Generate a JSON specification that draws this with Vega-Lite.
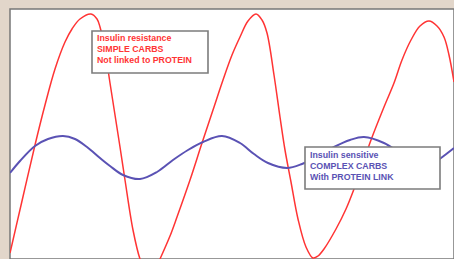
{
  "$schema": "https://vega.github.io/schema/vega-lite/v6.json",
  "width": 454,
  "height": 259,
  "autosize": {"type": "fit", "contains": "padding"},
  "padding": {"left": 10, "top": 9, "right": 0, "bottom": 0},
  "background": "#e2d6ca",
  "config": {"view": {"fill": "white", "stroke": "#777777", "strokeWidth": 1.5}},
  "datasets": {
    "curves": [
      {"series": "resistance", "x": 0, "y": 6},
      {"series": "resistance", "x": 12, "y": 58},
      {"series": "resistance", "x": 25, "y": 114},
      {"series": "resistance", "x": 35, "y": 154},
      {"series": "resistance", "x": 45, "y": 190},
      {"series": "resistance", "x": 55, "y": 217},
      {"series": "resistance", "x": 62, "y": 230},
      {"series": "resistance", "x": 70, "y": 240},
      {"series": "resistance", "x": 81, "y": 245},
      {"series": "resistance", "x": 87, "y": 240},
      {"series": "resistance", "x": 90, "y": 232},
      {"series": "resistance", "x": 95, "y": 209},
      {"series": "resistance", "x": 100, "y": 176},
      {"series": "resistance", "x": 110, "y": 112},
      {"series": "resistance", "x": 115, "y": 79},
      {"series": "resistance", "x": 123, "y": 29},
      {"series": "resistance", "x": 130, "y": 0},
      {"series": "resistance", "x": 135, "y": -11},
      {"series": "resistance", "x": 140, "y": -15},
      {"series": "resistance", "x": 145, "y": -11},
      {"series": "resistance", "x": 150, "y": 0},
      {"series": "resistance", "x": 160, "y": 23},
      {"series": "resistance", "x": 167, "y": 42},
      {"series": "resistance", "x": 180, "y": 79},
      {"series": "resistance", "x": 192, "y": 116},
      {"series": "resistance", "x": 203, "y": 149},
      {"series": "resistance", "x": 213, "y": 179},
      {"series": "resistance", "x": 222, "y": 204},
      {"series": "resistance", "x": 230, "y": 222},
      {"series": "resistance", "x": 238, "y": 238},
      {"series": "resistance", "x": 246, "y": 245},
      {"series": "resistance", "x": 252, "y": 239},
      {"series": "resistance", "x": 257, "y": 226},
      {"series": "resistance", "x": 264, "y": 184},
      {"series": "resistance", "x": 270, "y": 142},
      {"series": "resistance", "x": 275, "y": 109},
      {"series": "resistance", "x": 281, "y": 77},
      {"series": "resistance", "x": 288, "y": 40},
      {"series": "resistance", "x": 296, "y": 12},
      {"series": "resistance", "x": 303, "y": 1},
      {"series": "resistance", "x": 308, "y": 3},
      {"series": "resistance", "x": 314, "y": 10},
      {"series": "resistance", "x": 326, "y": 30},
      {"series": "resistance", "x": 336, "y": 50},
      {"series": "resistance", "x": 344, "y": 70},
      {"series": "resistance", "x": 352, "y": 93},
      {"series": "resistance", "x": 361, "y": 119},
      {"series": "resistance", "x": 374, "y": 152},
      {"series": "resistance", "x": 384, "y": 176},
      {"series": "resistance", "x": 392, "y": 199},
      {"series": "resistance", "x": 401, "y": 219},
      {"series": "resistance", "x": 410, "y": 233},
      {"series": "resistance", "x": 419, "y": 238},
      {"series": "resistance", "x": 427, "y": 233},
      {"series": "resistance", "x": 434, "y": 222},
      {"series": "resistance", "x": 439, "y": 204},
      {"series": "resistance", "x": 444, "y": 177},
      {"series": "sensitive", "x": 0, "y": 86},
      {"series": "sensitive", "x": 10, "y": 98},
      {"series": "sensitive", "x": 25, "y": 113},
      {"series": "sensitive", "x": 38, "y": 120},
      {"series": "sensitive", "x": 53, "y": 123},
      {"series": "sensitive", "x": 65, "y": 120},
      {"series": "sensitive", "x": 77, "y": 112},
      {"series": "sensitive", "x": 90, "y": 101},
      {"series": "sensitive", "x": 100, "y": 93},
      {"series": "sensitive", "x": 113, "y": 84},
      {"series": "sensitive", "x": 130, "y": 80},
      {"series": "sensitive", "x": 147, "y": 87},
      {"series": "sensitive", "x": 163, "y": 99},
      {"series": "sensitive", "x": 178, "y": 109},
      {"series": "sensitive", "x": 193, "y": 117},
      {"series": "sensitive", "x": 212, "y": 123},
      {"series": "sensitive", "x": 230, "y": 116},
      {"series": "sensitive", "x": 244, "y": 105},
      {"series": "sensitive", "x": 258, "y": 96},
      {"series": "sensitive", "x": 277, "y": 91},
      {"series": "sensitive", "x": 292, "y": 95},
      {"series": "sensitive", "x": 308, "y": 103},
      {"series": "sensitive", "x": 324, "y": 112},
      {"series": "sensitive", "x": 340, "y": 119},
      {"series": "sensitive", "x": 354, "y": 122},
      {"series": "sensitive", "x": 374, "y": 116},
      {"series": "sensitive", "x": 390, "y": 106},
      {"series": "sensitive", "x": 405, "y": 96},
      {"series": "sensitive", "x": 418, "y": 92},
      {"series": "sensitive", "x": 431, "y": 101},
      {"series": "sensitive", "x": 444, "y": 111}
    ],
    "boxes": [
      {"series": "resistance", "x": 82, "x2": 198, "y": 228, "y2": 186},
      {"series": "sensitive", "x": 295, "x2": 430, "y": 112, "y2": 70}
    ],
    "labels": [
      {"series": "resistance", "x": 87, "y": 221, "text": "Insulin resistance"},
      {"series": "resistance", "x": 87, "y": 210, "text": "SIMPLE CARBS"},
      {"series": "resistance", "x": 87, "y": 199, "text": "Not linked to PROTEIN"},
      {"series": "sensitive", "x": 300, "y": 104, "text": "Insulin sensitive"},
      {"series": "sensitive", "x": 300, "y": 93, "text": "COMPLEX CARBS"},
      {"series": "sensitive", "x": 300, "y": 82, "text": "With PROTEIN LINK"}
    ]
  },
  "layer": [
    {
      "data": {"name": "curves"},
      "mark": {"type": "line", "interpolate": "catmull-rom", "clip": true},
      "encoding": {
        "x": {"field": "x", "type": "quantitative", "scale": {"domain": [0, 444], "nice": false, "zero": false}, "axis": null},
        "y": {"field": "y", "type": "quantitative", "scale": {"domain": [0, 250], "nice": false, "zero": false}, "axis": null},
        "color": {"field": "series", "type": "nominal", "scale": {"domain": ["resistance", "sensitive"], "range": ["#ff3434", "#5a52b4"]}, "legend": null},
        "strokeWidth": {"field": "series", "type": "nominal", "scale": {"domain": ["resistance", "sensitive"], "range": [1.5, 2]}, "legend": null}
      }
    },
    {
      "data": {"name": "boxes"},
      "mark": {"type": "rect", "fill": "white", "stroke": "#7c7c7c", "strokeWidth": 1.6},
      "encoding": {
        "x": {"field": "x", "type": "quantitative"},
        "x2": {"field": "x2"},
        "y": {"field": "y", "type": "quantitative"},
        "y2": {"field": "y2"}
      }
    },
    {
      "data": {"name": "labels"},
      "mark": {"type": "text", "align": "left", "baseline": "middle", "font": "Liberation Sans", "fontSize": 8.8, "fontWeight": "bold"},
      "encoding": {
        "x": {"field": "x", "type": "quantitative"},
        "y": {"field": "y", "type": "quantitative"},
        "text": {"field": "text"},
        "color": {"field": "series", "type": "nominal", "scale": {"domain": ["resistance", "sensitive"], "range": ["#ff2a2a", "#3c3ca8"]}, "legend": null}
      }
    }
  ]
}
